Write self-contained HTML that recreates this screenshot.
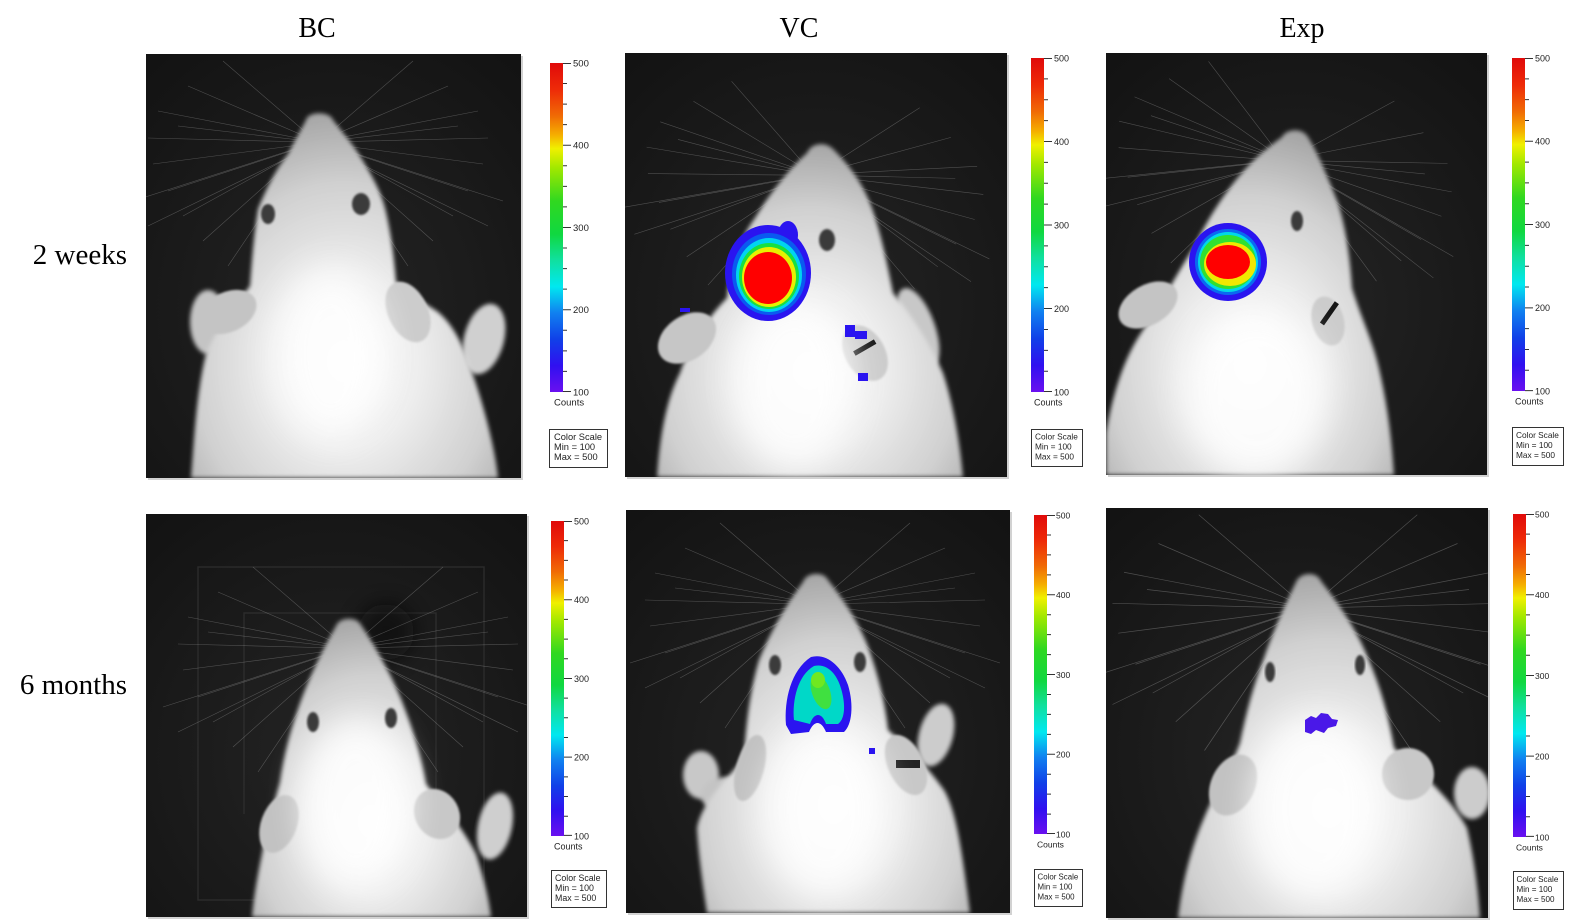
<!DOCTYPE html>
<html><head><meta charset="utf-8"><style>
html,body{margin:0;padding:0;background:#fff;}
svg{display:block;}
.t{font-family:"Liberation Serif",serif;fill:#000;}
.c{font-family:"Liberation Sans",sans-serif;fill:#222;}
</style></head><body>
<svg width="1585" height="923" viewBox="0 0 1585 923" xmlns="http://www.w3.org/2000/svg">
<defs>
<radialGradient id="bodyG" cx="0.5" cy="0.68" r="0.7">
<stop offset="0" stop-color="#fdfdfd"/><stop offset="0.35" stop-color="#ededed"/><stop offset="0.7" stop-color="#d0d0d0"/><stop offset="1" stop-color="#a2a2a2"/>
</radialGradient>
<radialGradient id="bgG" cx="0.5" cy="0.6" r="0.75">
<stop offset="0" stop-color="#242424"/><stop offset="1" stop-color="#131313"/>
</radialGradient>
<linearGradient id="cb" x1="0" y1="0" x2="0" y2="1">
<stop offset="0" stop-color="#e00a0a"/><stop offset="0.08" stop-color="#ee2a08"/><stop offset="0.16" stop-color="#f06a05"/><stop offset="0.22" stop-color="#f5b000"/><stop offset="0.26" stop-color="#f0f000"/><stop offset="0.32" stop-color="#a0e800"/><stop offset="0.42" stop-color="#30d820"/><stop offset="0.52" stop-color="#10d840"/><stop offset="0.6" stop-color="#10e0a0"/><stop offset="0.68" stop-color="#00e8f0"/><stop offset="0.76" stop-color="#1080f0"/><stop offset="0.84" stop-color="#1040e8"/><stop offset="0.92" stop-color="#3010f0"/><stop offset="1" stop-color="#6a10f0"/>
</linearGradient>
<filter id="soft" x="-10%" y="-10%" width="120%" height="120%"><feGaussianBlur stdDeviation="2"/></filter>
<filter id="glow" x="-60%" y="-60%" width="220%" height="220%"><feGaussianBlur stdDeviation="16"/></filter>
<filter id="b1"><feGaussianBlur stdDeviation="1"/></filter>
<filter id="b4" x="-80%" y="-80%" width="260%" height="260%"><feGaussianBlur stdDeviation="10"/></filter>
<g id="wh" stroke="#cfcfcf" stroke-width="0.6" opacity="0.3" fill="none">
<path d="M-8,20 L-95,-55 M-9,22 L-130,-30 M-10,24 L-160,-5 M-10,26 L-170,22 M-11,28 L-165,48 M-12,30 L-150,75 M-12,32 L-135,100 M-13,34 L-115,125 M-13,36 L-90,150 M-14,30 L-185,85 M-10,25 L-140,10 M-12,33 L-170,110"/>
<path d="M8,20 L95,-55 M9,22 L130,-30 M10,24 L160,-5 M10,26 L170,22 M11,28 L165,48 M12,30 L150,75 M12,32 L135,100 M13,34 L115,125 M13,36 L90,150 M14,30 L185,85 M10,25 L140,10 M12,33 L170,110"/>
</g>
<g id="tk" stroke="#333" stroke-width="1" fill="none">
<path vector-effect="non-scaling-stroke" d="M13,0.5 h8 M13,20 h4 M13,40 h4 M13,60 h4 M13,80 h8 M13,100 h4 M13,120 h4 M13,140 h4 M13,160 h8 M13,180 h4 M13,200 h4 M13,220 h4 M13,240 h8 M13,260 h4 M13,280 h4 M13,300 h4 M13,319.5 h8"/>
</g>
</defs>

<!-- titles -->
<text class="t" x="317" y="37" font-size="28" text-anchor="middle">BC</text>
<text class="t" x="799" y="37" font-size="28" text-anchor="middle">VC</text>
<text class="t" x="1302" y="37" font-size="28" text-anchor="middle">Exp</text>
<text class="t" x="127" y="264" font-size="29" text-anchor="end">2 weeks</text>
<text class="t" x="127" y="694" font-size="29" text-anchor="end">6 months</text>

<!-- panel shadows -->
<rect x="148" y="56" width="375" height="424" fill="#d2d2d2"/>
<rect x="627" y="55" width="382" height="424" fill="#d2d2d2"/>
<rect x="1108" y="55" width="381" height="422" fill="#d2d2d2"/>
<rect x="148" y="516" width="381" height="403" fill="#d2d2d2"/>
<rect x="628" y="512" width="384" height="403" fill="#d2d2d2"/>
<rect x="1108" y="510" width="382" height="410" fill="#d2d2d2"/>

<!-- TL: BC 2 weeks -->
<svg x="146" y="54" width="375" height="424" viewBox="0 0 375 424">
<rect width="375" height="424" fill="url(#bgG)"/>
<use href="#wh" transform="translate(172,62)"/>
<ellipse cx="62" cy="268" rx="18" ry="32" fill="#c4c4c4" filter="url(#soft)"/>
<ellipse cx="338" cy="285" rx="20" ry="36" transform="rotate(15 338 285)" fill="#d0d0d0" filter="url(#soft)"/>
<path d="M160,66 C162,57 184,57 187,66 C198,80 208,92 214,102 C228,125 236,140 240,158 C246,185 248,205 250,228 C262,240 280,250 292,258 C312,275 320,300 330,330 C340,360 350,400 352,424 L45,424 C48,390 50,340 60,300 C70,275 90,250 104,232 C106,205 108,180 112,155 C120,135 130,115 142,100 C148,88 155,76 160,66 Z" fill="url(#bodyG)" filter="url(#soft)"/>
<ellipse cx="82" cy="258" rx="30" ry="20" transform="rotate(-25 82 258)" fill="#c4c4c4" filter="url(#b1)"/>
<ellipse cx="262" cy="258" rx="20" ry="32" transform="rotate(-25 262 258)" fill="#cccccc" filter="url(#b1)"/>
<ellipse cx="185" cy="300" rx="55" ry="85" fill="#fff" opacity="0.8" filter="url(#glow)"/>
<ellipse cx="122" cy="160" rx="7" ry="10" fill="#3a3a3a" filter="url(#b1)"/>
<ellipse cx="215" cy="150" rx="9" ry="11" fill="#3a3a3a" filter="url(#b1)"/>
</svg>

<!-- TM: VC 2 weeks -->
<svg x="625" y="53" width="382" height="424" viewBox="0 0 382 424">
<rect width="382" height="424" fill="url(#bgG)"/>
<use href="#wh" transform="translate(193,96) rotate(8)"/>
<ellipse cx="293" cy="275" rx="17" ry="42" transform="rotate(-20 293 275)" fill="#c8c8c8" filter="url(#soft)"/>
<path d="M182,100 C186,90 200,88 208,96 C220,108 235,125 245,150 C255,175 262,210 268,240 C285,260 305,290 318,320 C328,350 335,390 338,424 L32,424 C35,380 42,345 55,320 C65,290 85,262 102,245 C105,215 115,185 130,165 C145,140 165,115 182,100 Z" fill="url(#bodyG)" filter="url(#soft)"/>
<ellipse cx="62" cy="285" rx="32" ry="22" transform="rotate(-35 62 285)" fill="#c6c6c6" filter="url(#b1)"/>
<ellipse cx="240" cy="300" rx="20" ry="30" transform="rotate(-30 240 300)" fill="#cccccc" filter="url(#b1)"/>
<rect x="228" y="292" width="24" height="5" transform="rotate(-30 240 295)" fill="#151515"/>
<ellipse cx="170" cy="330" rx="60" ry="85" fill="#fff" opacity="0.8" filter="url(#glow)"/>
<ellipse cx="202" cy="187" rx="8" ry="11" fill="#3a3a3a" filter="url(#b1)"/>
<g transform="translate(143,220)">
<ellipse cx="20" cy="-38" rx="10" ry="14" fill="#2a14f0"/>
<ellipse cx="0" cy="0" rx="43" ry="48" fill="#2a14f0"/>
<ellipse cx="1" cy="1" rx="37" ry="41" fill="#0a5af0"/>
<ellipse cx="1" cy="2" rx="33" ry="37" fill="#00d4f0"/>
<ellipse cx="1" cy="3" rx="30" ry="33" fill="#18e040"/>
<ellipse cx="1" cy="4" rx="27" ry="30" fill="#e8f000"/>
<ellipse cx="0" cy="5" rx="24" ry="26" fill="#ff0000"/>
</g>
<rect x="220" y="272" width="10" height="12" fill="#2a14f0"/>
<rect x="230" y="278" width="12" height="8" fill="#2a14f0"/>
<rect x="233" y="320" width="10" height="8" fill="#2a14f0"/>
<rect x="55" y="255" width="10" height="4" fill="#2a14f0"/>
</svg>

<!-- TR: Exp 2 weeks -->
<svg x="1106" y="53" width="381" height="422" viewBox="0 0 381 422">
<rect width="381" height="422" fill="url(#bgG)"/>
<use href="#wh" transform="translate(184,82) rotate(12)"/>
<path d="M176,84 C180,76 196,74 202,84 C212,100 222,125 232,150 C240,175 244,205 246,235 C255,265 268,290 274,320 C282,355 286,390 288,422 L0,422 L0,380 C5,350 15,310 35,280 C55,250 75,215 90,190 C105,160 125,130 145,110 C158,97 168,90 176,84 Z" fill="url(#bodyG)" filter="url(#soft)"/>
<ellipse cx="42" cy="252" rx="32" ry="20" transform="rotate(-30 42 252)" fill="#c4c4c4" filter="url(#b1)"/>
<ellipse cx="222" cy="268" rx="16" ry="25" transform="rotate(-15 222 268)" fill="#cccccc" filter="url(#b1)"/>
<rect x="210" y="258" width="26" height="5" transform="rotate(-55 223 260)" fill="#151515"/>
<ellipse cx="150" cy="340" rx="70" ry="85" fill="#fff" opacity="0.8" filter="url(#glow)"/>
<ellipse cx="191" cy="168" rx="6" ry="10" fill="#3a3a3a" filter="url(#b1)"/>
<g transform="translate(122,209)">
<ellipse cx="0" cy="0" rx="39" ry="39" fill="#2a14f0"/>
<ellipse cx="0" cy="0" rx="33" ry="33" fill="#0a6af0"/>
<ellipse cx="0" cy="0" rx="30" ry="30" fill="#00d8e8"/>
<ellipse cx="0" cy="0" rx="28" ry="27" fill="#30e030"/>
<ellipse cx="2" cy="2" rx="26" ry="22" fill="#f0e800"/>
<ellipse cx="0" cy="0" rx="22" ry="17" fill="#ff0000"/>
</g>
</svg>

<!-- BL: BC 6 months -->
<svg x="146" y="514" width="381" height="403" viewBox="0 0 381 403">
<rect width="381" height="403" fill="url(#bgG)"/>
<g fill="none" stroke="#333" stroke-width="1.5" opacity="0.7">
<path d="M52,341 V53 H338 V386 H52 V341"/>
<path d="M98,300 V99 H290 V300"/>
</g>
<ellipse cx="240" cy="118" rx="28" ry="28" fill="#0a0a0a" opacity="0.7" filter="url(#b4)"/>
<use href="#wh" transform="translate(202,108)"/>
<ellipse cx="349" cy="312" rx="17" ry="34" transform="rotate(12 349 312)" fill="#cfcfcf" filter="url(#soft)"/>
<path d="M190,112 C193,103 211,102 215,111 C228,130 245,160 255,185 C265,210 275,240 280,270 C295,290 315,310 330,340 C338,365 343,385 345,403 L106,403 C108,380 112,360 116,340 C120,315 128,290 134,268 C138,240 145,215 152,195 C162,165 177,135 190,112 Z" fill="url(#bodyG)" filter="url(#soft)"/>
<ellipse cx="133" cy="310" rx="18" ry="30" transform="rotate(20 133 310)" fill="#c2c2c2" filter="url(#b1)"/>
<ellipse cx="291" cy="300" rx="22" ry="26" transform="rotate(-30 291 300)" fill="#c8c8c8" filter="url(#b1)"/>
<ellipse cx="210" cy="290" rx="55" ry="85" fill="#fff" opacity="0.8" filter="url(#glow)"/>
<ellipse cx="167" cy="208" rx="6" ry="10" fill="#3a3a3a" filter="url(#b1)"/>
<ellipse cx="245" cy="204" rx="6" ry="10" fill="#3a3a3a" filter="url(#b1)"/>
</svg>

<!-- BM: VC 6 months -->
<svg x="626" y="510" width="384" height="403" viewBox="0 0 384 403">
<rect width="384" height="403" fill="url(#bgG)"/>
<use href="#wh" transform="translate(189,68)"/>
<ellipse cx="75" cy="265" rx="18" ry="24" fill="#c8c8c8" filter="url(#soft)"/>
<ellipse cx="100" cy="285" rx="25" ry="18" fill="#c4c4c4" filter="url(#soft)"/>
<ellipse cx="310" cy="225" rx="17" ry="32" transform="rotate(15 310 225)" fill="#cccccc" filter="url(#soft)"/>
<path d="M177,72 C180,62 198,61 202,70 C218,90 235,115 245,145 C255,175 260,200 262,220 C280,235 300,255 318,280 C330,300 336,340 344,403 L81,403 C76,370 72,340 71,318 C75,295 95,275 118,248 C120,215 124,180 133,150 C145,120 162,92 177,72 Z" fill="url(#bodyG)" filter="url(#soft)"/>
<ellipse cx="124" cy="258" rx="14" ry="34" transform="rotate(15 124 258)" fill="#c2c2c2" filter="url(#b1)"/>
<ellipse cx="280" cy="255" rx="18" ry="32" transform="rotate(-25 280 255)" fill="#c8c8c8" filter="url(#b1)"/>
<rect x="270" y="250" width="24" height="8" fill="#222"/>
<ellipse cx="200" cy="300" rx="60" ry="85" fill="#fff" opacity="0.8" filter="url(#glow)"/>
<ellipse cx="149" cy="155" rx="6" ry="10" fill="#3a3a3a" filter="url(#b1)"/>
<ellipse cx="234" cy="152" rx="6" ry="10" fill="#3a3a3a" filter="url(#b1)"/>
<path d="M160,215 C158,190 165,160 185,147 C200,143 215,155 222,175 C228,195 226,215 218,222 L200,222 C195,210 188,210 183,222 L165,224 Z" fill="#2a14f0"/>
<path d="M168,210 C166,190 172,165 188,156 C202,153 212,165 216,182 C220,198 218,210 212,214 L200,214 C196,202 188,202 184,214 Z" fill="#00d8c8"/>
<ellipse cx="195" cy="182" rx="9" ry="18" transform="rotate(-20 195 182)" fill="#40e040"/>
<ellipse cx="192" cy="170" rx="7" ry="8" fill="#70e820"/>
<rect x="243" y="238" width="6" height="6" fill="#2a14f0"/>
</svg>

<!-- BR: Exp 6 months -->
<svg x="1106" y="508" width="382" height="410" viewBox="0 0 382 410">
<rect width="382" height="410" fill="url(#bgG)"/>
<use href="#wh" transform="translate(202,70) scale(1.15)"/>
<ellipse cx="366" cy="285" rx="18" ry="26" fill="#cccccc" filter="url(#soft)"/>
<path d="M190,74 C194,64 211,63 215,73 C232,95 250,120 262,150 C275,180 283,210 288,240 C315,265 345,290 361,320 C368,350 372,380 374,410 L72,410 C76,375 85,340 98,310 C108,285 125,260 134,235 C140,205 148,175 158,150 C168,120 180,95 190,74 Z" fill="url(#bodyG)" filter="url(#soft)"/>
<ellipse cx="127" cy="277" rx="22" ry="32" transform="rotate(25 127 277)" fill="#c2c2c2" filter="url(#b1)"/>
<ellipse cx="302" cy="266" rx="26" ry="26" transform="rotate(-30 302 266)" fill="#c8c8c8" filter="url(#b1)"/>
<ellipse cx="210" cy="300" rx="65" ry="90" fill="#fff" opacity="0.8" filter="url(#glow)"/>
<ellipse cx="164" cy="164" rx="5" ry="10" fill="#3a3a3a" filter="url(#b1)"/>
<ellipse cx="254" cy="157" rx="5" ry="10" fill="#3a3a3a" filter="url(#b1)"/>
<path d="M199,212 L205,208 L210,210 L215,205 L222,206 L226,211 L232,212 L230,218 L222,220 L218,225 L210,222 L205,226 L199,224 Z" fill="#4a18e8"/>
</svg>

<!-- colorbars -->
<g transform="translate(550,63)">
<rect width="13" height="329" fill="url(#cb)"/>
<use href="#tk" transform="scale(1,1.028)"/>
<g class="c" font-size="9.5"><text x="23" y="3.3">500</text><text x="23" y="85.5">400</text><text x="23" y="167.8">300</text><text x="23" y="250">200</text><text x="23" y="332.3">100</text><text x="4" y="342.5">Counts</text></g>
<rect x="-0.5" y="366.5" width="58" height="38" fill="#fff" stroke="#333"/>
<g class="c" font-size="9.3"><text x="4" y="377">Color Scale</text><text x="4" y="387">Min = 100</text><text x="4" y="397">Max = 500</text></g>
</g>

<g transform="translate(1031,58)">
<rect width="13" height="334" fill="url(#cb)"/>
<use href="#tk" transform="scale(1,1.044)"/>
<g class="c" font-size="9"><text x="23" y="3.3">500</text><text x="23" y="86.8">400</text><text x="23" y="170.3">300</text><text x="23" y="253.8">200</text><text x="23" y="337.3">100</text><text x="3" y="347.5">Counts</text></g>
<rect x="0.5" y="371.5" width="51" height="37" fill="#fff" stroke="#333"/>
<g class="c" font-size="8.3"><text x="4" y="381.5">Color Scale</text><text x="4" y="391.5">Min = 100</text><text x="4" y="401.5">Max = 500</text></g>
</g>

<g transform="translate(1512,58)">
<rect width="13" height="333" fill="url(#cb)"/>
<use href="#tk" transform="scale(1,1.041)"/>
<g class="c" font-size="9"><text x="23" y="3.3">500</text><text x="23" y="86.5">400</text><text x="23" y="169.8">300</text><text x="23" y="253">200</text><text x="23" y="336.3">100</text><text x="3" y="346.5">Counts</text></g>
<rect x="0.5" y="369.5" width="51" height="38" fill="#fff" stroke="#333"/>
<g class="c" font-size="8.3"><text x="4" y="380">Color Scale</text><text x="4" y="390">Min = 100</text><text x="4" y="400">Max = 500</text></g>
</g>

<g transform="translate(551,521)">
<rect width="13" height="315" fill="url(#cb)"/>
<use href="#tk" transform="scale(1,0.984)"/>
<g class="c" font-size="9"><text x="23" y="3.3">500</text><text x="23" y="82">400</text><text x="23" y="160.8">300</text><text x="23" y="239.5">200</text><text x="23" y="318.3">100</text><text x="3" y="328.5">Counts</text></g>
<rect x="0.5" y="349.5" width="55" height="37" fill="#fff" stroke="#333"/>
<g class="c" font-size="8.8"><text x="4" y="360">Color Scale</text><text x="4" y="370">Min = 100</text><text x="4" y="380">Max = 500</text></g>
</g>

<g transform="translate(1034,515)">
<rect width="13" height="319" fill="url(#cb)"/>
<use href="#tk" transform="scale(1,0.997)"/>
<g class="c" font-size="8.5"><text x="22" y="3.3">500</text><text x="22" y="83">400</text><text x="22" y="162.8">300</text><text x="22" y="242.5">200</text><text x="22" y="322.3">100</text><text x="3" y="332.5">Counts</text></g>
<rect x="0.5" y="354.5" width="48" height="37" fill="#fff" stroke="#333"/>
<g class="c" font-size="7.9"><text x="3.5" y="364.5">Color Scale</text><text x="3.5" y="374.5">Min = 100</text><text x="3.5" y="384.5">Max = 500</text></g>
</g>

<g transform="translate(1513,514)">
<rect width="13" height="323" fill="url(#cb)"/>
<use href="#tk" transform="scale(1,1.009)"/>
<g class="c" font-size="8.5"><text x="22" y="3.3">500</text><text x="22" y="84">400</text><text x="22" y="164.8">300</text><text x="22" y="245.5">200</text><text x="22" y="326.3">100</text><text x="3" y="336.5">Counts</text></g>
<rect x="0.5" y="357.5" width="50" height="38" fill="#fff" stroke="#333"/>
<g class="c" font-size="8.1"><text x="3.5" y="368">Color Scale</text><text x="3.5" y="378">Min = 100</text><text x="3.5" y="388">Max = 500</text></g>
</g>
</svg>
</body></html>
